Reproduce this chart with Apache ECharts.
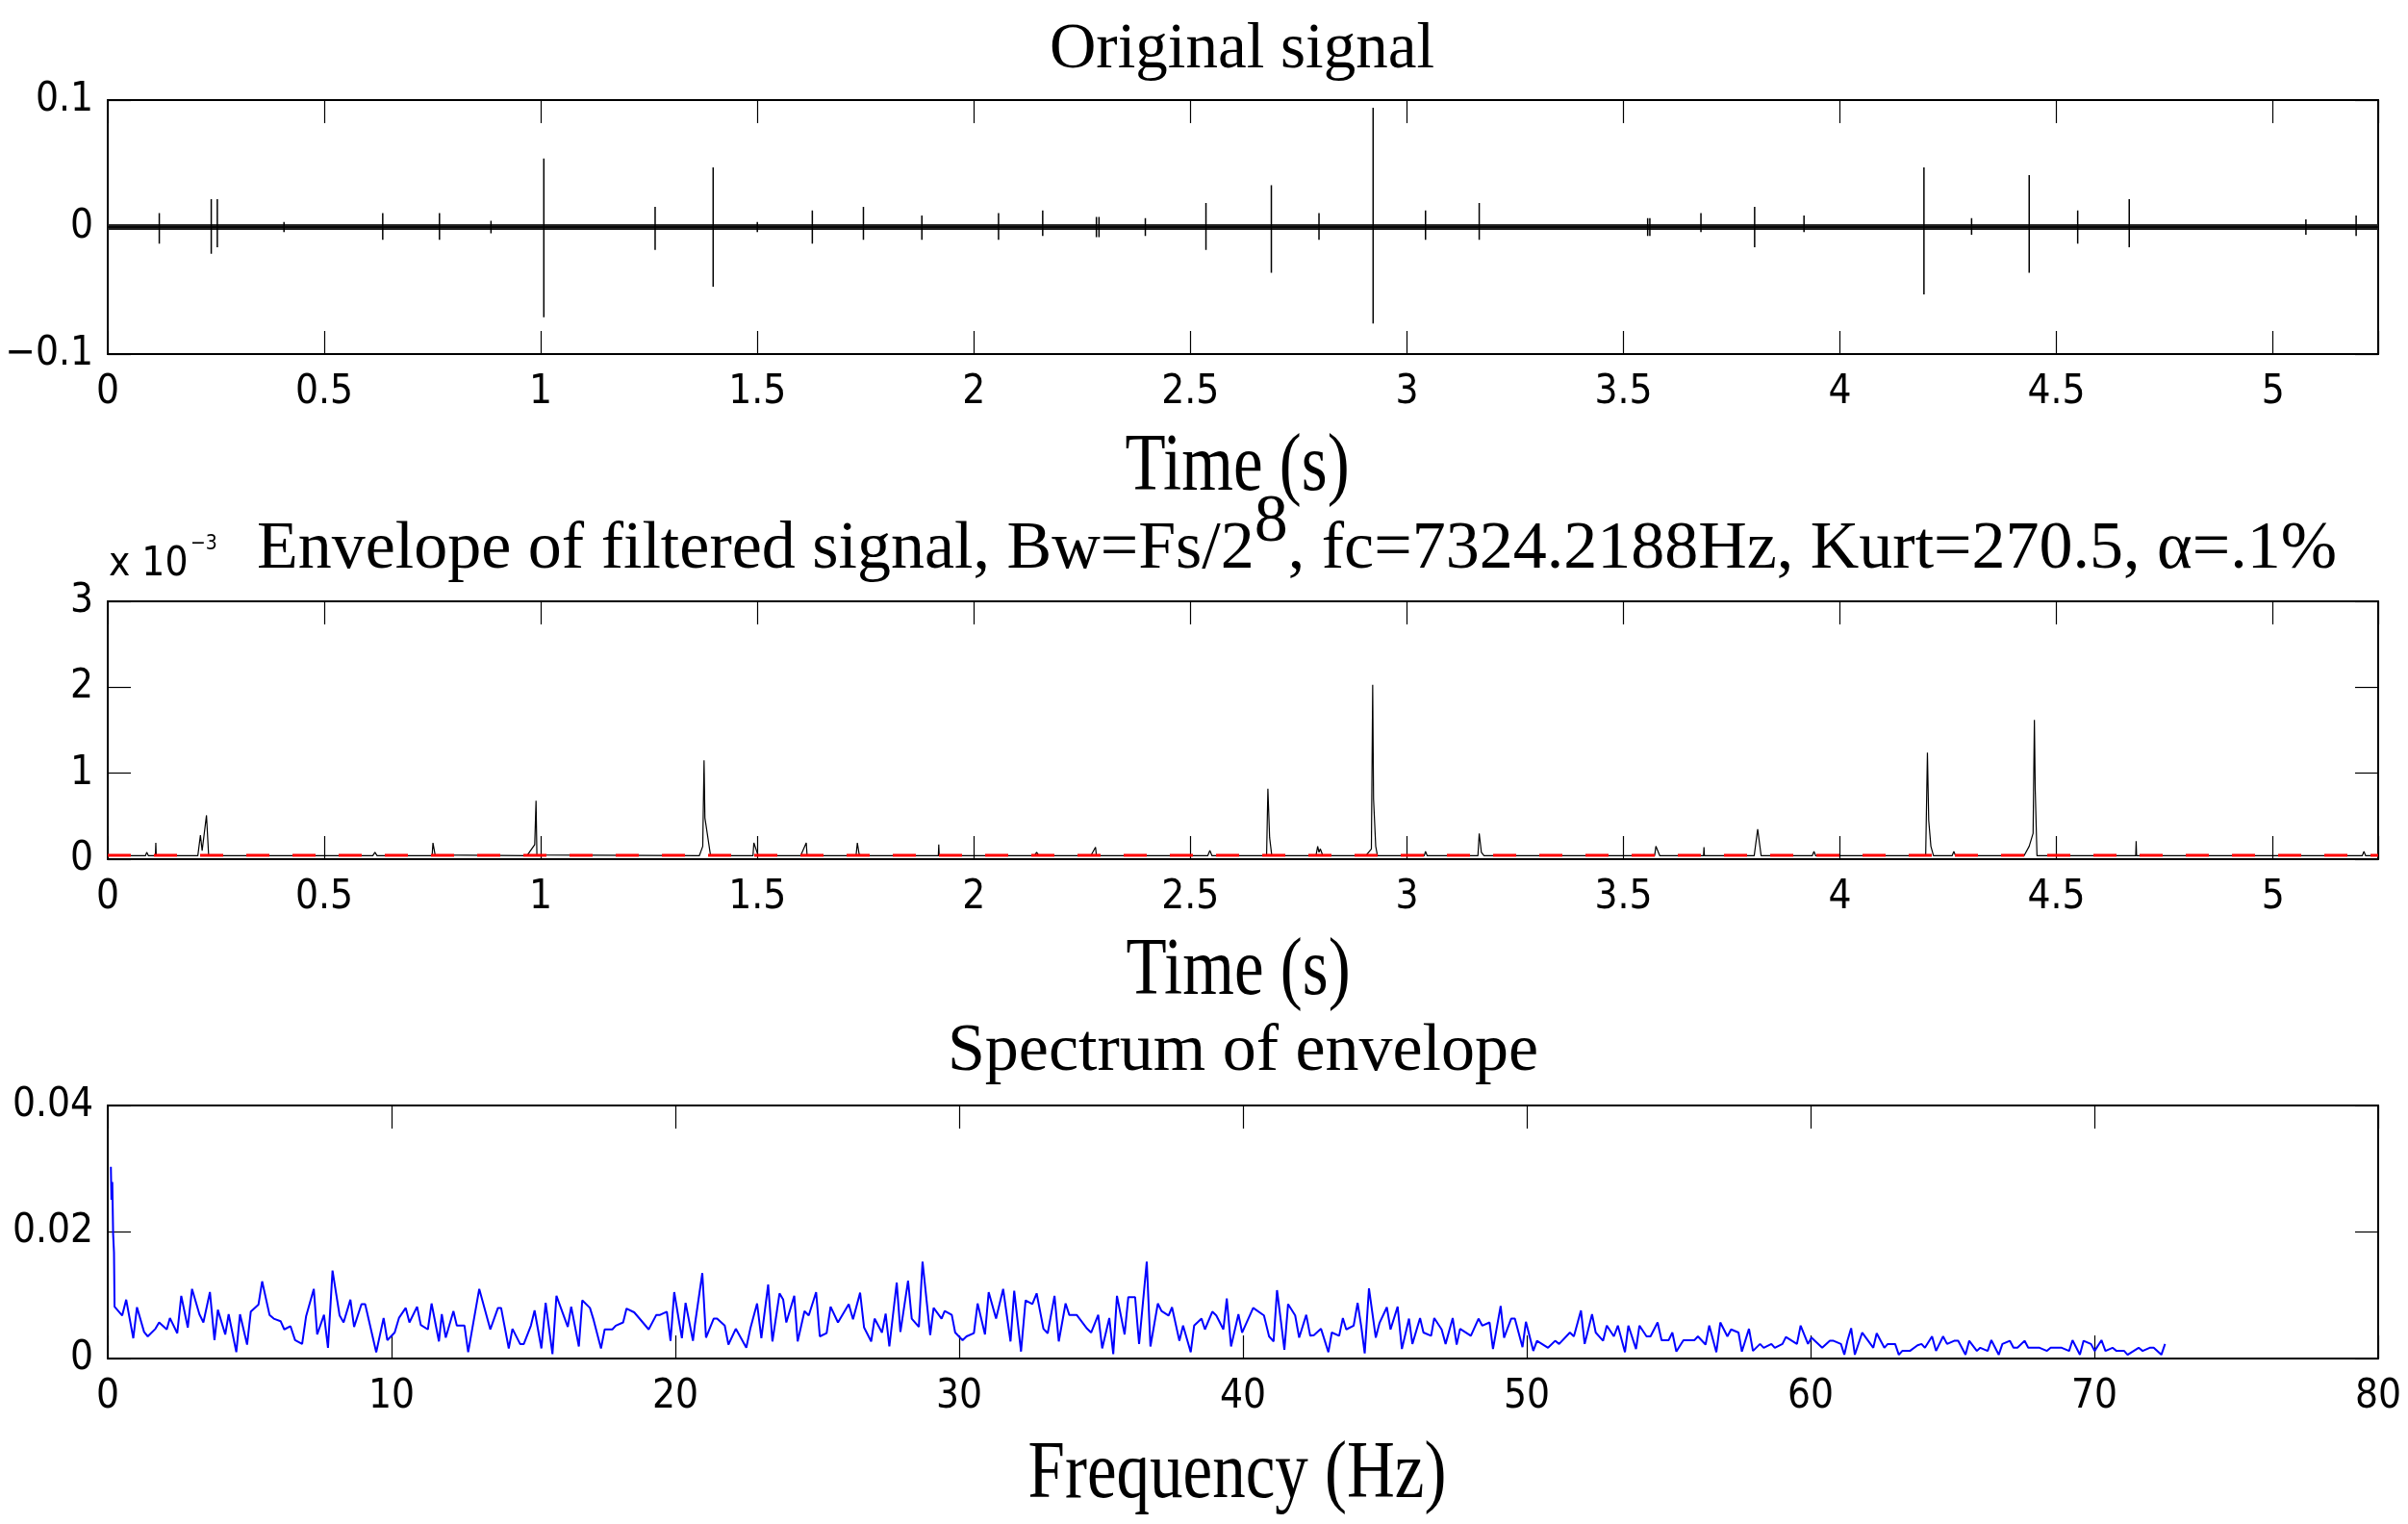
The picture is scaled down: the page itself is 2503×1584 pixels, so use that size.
<!DOCTYPE html>
<html>
<head>
<meta charset="utf-8">
<script src="https://cdn.jsdelivr.net/npm/echarts@6/dist/echarts.min.js"></script>
<style>
  html, body { margin: 0; padding: 0; background: #fff; }
  #chart { width: 2503px; height: 1584px; }
</style>
</head>
<body>
<div id="chart"></div>
<script>
// ---- data ----
var SIG_MAX = 5.24288;          // record length (s)
var SIG_NOISE = 0.0022;         // half height of the background noise band

// impulses of the original signal: time, positive peak, negative peak
var sigT = [0.119, 0.239, 0.253, 0.407, 0.635, 0.766, 0.885, 1.007, 1.264, 1.398, 1.500, 1.627, 1.745, 1.880, 2.057, 2.159, 2.283, 2.289, 2.396, 2.536, 2.687, 2.797, 2.922, 3.043, 3.167, 3.556, 3.561, 3.679, 3.803, 3.917, 4.194, 4.304, 4.437, 4.549, 4.668, 5.076, 5.192];
var sigUp = [0.011, 0.022, 0.022, 0.004, 0.011, 0.011, 0.005, 0.054, 0.016, 0.047, 0.004, 0.013, 0.016, 0.009, 0.011, 0.013, 0.008, 0.008, 0.007, 0.019, 0.033, 0.011, 0.094, 0.013, 0.019, 0.007, 0.007, 0.011, 0.016, 0.009, 0.047, 0.007, 0.041, 0.013, 0.022, 0.006, 0.009];
var sigDown = [-0.013, -0.021, -0.016, -0.004, -0.010, -0.010, -0.005, -0.071, -0.018, -0.047, -0.004, -0.013, -0.010, -0.010, -0.010, -0.007, -0.008, -0.008, -0.007, -0.018, -0.036, -0.010, -0.076, -0.010, -0.010, -0.007, -0.007, -0.004, -0.016, -0.004, -0.053, -0.006, -0.036, -0.013, -0.016, -0.006, -0.007];

// envelope of filtered signal (x 10^-3)
var envThreshold = 0.045;
var envPoints = [
  [0, 0.04], [0.087, 0.04], [0.090, 0.08], [0.094, 0.04], [0.110, 0.04], [0.111, 0.19], [0.112, 0.04],
  [0.208, 0.04], [0.214, 0.28], [0.218, 0.10], [0.228, 0.51], [0.233, 0.04],
  [0.612, 0.04], [0.617, 0.08], [0.622, 0.04],
  [0.749, 0.04], [0.751, 0.19], [0.756, 0.05], [0.760, 0.04],
  [0.968, 0.04], [0.986, 0.17], [0.989, 0.68], [0.991, 0.05],
  [1.366, 0.04], [1.374, 0.15], [1.377, 1.15], [1.379, 0.48], [1.392, 0.04],
  [1.490, 0.04], [1.492, 0.19], [1.502, 0.04],
  [1.600, 0.04], [1.613, 0.19], [1.615, 0.04],
  [1.728, 0.04], [1.731, 0.19], [1.735, 0.06], [1.741, 0.04],
  [1.918, 0.04], [1.919, 0.17], [1.920, 0.04],
  [2.140, 0.04], [2.145, 0.08], [2.150, 0.04],
  [2.270, 0.04], [2.281, 0.14], [2.283, 0.04],
  [2.540, 0.04], [2.545, 0.10], [2.550, 0.04],
  [2.676, 0.04], [2.679, 0.82], [2.683, 0.25], [2.688, 0.04],
  [2.790, 0.04], [2.794, 0.15], [2.797, 0.08], [2.800, 0.12], [2.806, 0.04],
  [2.905, 0.04], [2.918, 0.12], [2.921, 2.03], [2.923, 0.70], [2.928, 0.15], [2.932, 0.04],
  [3.040, 0.04], [3.043, 0.09], [3.047, 0.04],
  [3.164, 0.04], [3.167, 0.30], [3.172, 0.08], [3.178, 0.04],
  [3.572, 0.04], [3.575, 0.15], [3.584, 0.04],
  [3.685, 0.04], [3.686, 0.14], [3.687, 0.04],
  [3.802, 0.04], [3.810, 0.35], [3.818, 0.04],
  [3.936, 0.04], [3.940, 0.09], [3.944, 0.04],
  [4.198, 0.04], [4.202, 1.24], [4.205, 0.45], [4.210, 0.15], [4.216, 0.04],
  [4.259, 0.04], [4.263, 0.09], [4.267, 0.04],
  [4.425, 0.04], [4.437, 0.15], [4.446, 0.30], [4.449, 1.62], [4.451, 0.80], [4.455, 0.04],
  [4.683, 0.04], [4.684, 0.21], [4.685, 0.04],
  [5.206, 0.04], [5.210, 0.09], [5.214, 0.04], [5.24288, 0.04]
];

// spectrum of envelope: [Hz, amplitude x 10^-3]
var specPoints = [
  [0.11, 30.3], [0.13, 25.1], [0.16, 27.9], [0.19, 19.6], [0.22, 16.8], [0.24, 8.2], [0.51, 6.8], [0.65, 9.3], [0.90, 3.2], [1.03, 8.1],
  [1.28, 4.2], [1.41, 3.5], [1.68, 4.7], [1.81, 5.7], [2.08, 4.6], [2.19, 6.4], [2.45, 4.0], [2.59, 9.9], [2.82, 4.9], [2.97, 11.0],
  [3.23, 7.0], [3.37, 5.7], [3.60, 10.5], [3.76, 2.9], [3.88, 7.7], [4.14, 3.8], [4.26, 7.0], [4.53, 1.0], [4.66, 7.0], [4.91, 2.2],
  [5.04, 7.4], [5.31, 8.5], [5.44, 12.2], [5.70, 6.9], [5.85, 6.3], [6.09, 5.9], [6.22, 4.6], [6.44, 5.1], [6.60, 2.9], [6.85, 2.3],
  [6.99, 6.7], [7.26, 11.0], [7.38, 3.8], [7.62, 6.9], [7.76, 1.7], [7.92, 13.9], [8.17, 6.8], [8.31, 5.7], [8.55, 9.3], [8.68, 5.0],
  [8.94, 8.6], [9.07, 8.6], [9.46, 1.0], [9.72, 6.4], [9.85, 2.9], [10.11, 4.1], [10.26, 6.4], [10.50, 8.0], [10.63, 5.7], [10.90, 8.2],
  [11.03, 5.3], [11.28, 4.6], [11.41, 8.7], [11.67, 2.7], [11.77, 7.0], [11.91, 3.3], [12.18, 7.5], [12.30, 5.2], [12.57, 5.2], [12.70, 1.0],
  [13.09, 11.0], [13.48, 4.6], [13.75, 8.0], [13.86, 8.0], [14.13, 1.6], [14.26, 4.7], [14.53, 2.3], [14.66, 2.3], [14.91, 5.2], [15.04, 7.6],
  [15.28, 1.6], [15.43, 8.8], [15.67, 0.7], [15.81, 9.9], [16.21, 5.0], [16.33, 8.2], [16.60, 1.9], [16.72, 9.2], [16.99, 8.0], [17.12, 6.1],
  [17.38, 1.6], [17.51, 4.6], [17.78, 4.6], [17.90, 5.2], [18.16, 5.7], [18.28, 7.9], [18.55, 7.3], [18.76, 6.2], [19.06, 4.6], [19.33, 6.9],
  [19.46, 6.9], [19.70, 7.4], [19.83, 2.8], [19.96, 10.5], [20.23, 3.2], [20.36, 8.8], [20.62, 2.8], [20.69, 5.4], [20.95, 13.5], [21.08, 3.3],
  [21.35, 6.3], [21.47, 6.3], [21.74, 5.2], [21.87, 2.2], [22.13, 4.7], [22.50, 1.7], [22.64, 4.7], [22.88, 8.7], [23.03, 3.2], [23.27, 11.7],
  [23.42, 2.7], [23.67, 10.3], [23.80, 9.3], [23.91, 5.7], [24.19, 9.9], [24.31, 2.7], [24.55, 7.5], [24.70, 6.8], [24.96, 10.5], [25.09, 3.5],
  [25.33, 4.0], [25.47, 8.2], [25.73, 5.7], [26.11, 8.6], [26.26, 6.2], [26.51, 10.4], [26.65, 4.9], [26.90, 2.7], [27.02, 6.3], [27.28, 4.1],
  [27.41, 7.1], [27.54, 1.9], [27.80, 12.0], [27.93, 4.2], [28.20, 12.3], [28.33, 6.3], [28.58, 5.0], [28.71, 15.3], [28.98, 3.7], [29.10, 8.0],
  [29.38, 6.3], [29.49, 7.5], [29.74, 6.9], [29.86, 4.1], [30.12, 2.9], [30.26, 3.5], [30.52, 4.0], [30.65, 8.7], [30.91, 3.8], [31.04, 10.5],
  [31.30, 6.3], [31.55, 11.0], [31.81, 2.7], [31.94, 10.7], [32.18, 1.1], [32.34, 9.2], [32.58, 8.6], [32.73, 10.3], [32.97, 4.7], [33.12, 4.0],
  [33.36, 9.9], [33.51, 2.7], [33.75, 8.7], [33.88, 6.9], [34.14, 6.9], [34.51, 4.7], [34.65, 4.1], [34.90, 6.9], [35.04, 1.6], [35.29, 6.4],
  [35.43, 0.7], [35.56, 9.9], [35.83, 3.8], [35.96, 9.7], [36.20, 9.7], [36.34, 2.3], [36.61, 15.3], [36.74, 1.9], [37.00, 8.7], [37.13, 7.5],
  [37.38, 6.8], [37.50, 8.1], [37.76, 2.8], [37.89, 5.2], [38.16, 1.0], [38.28, 5.2], [38.54, 6.3], [38.66, 4.6], [38.92, 7.4], [39.06, 6.8],
  [39.31, 4.6], [39.43, 9.5], [39.58, 1.9], [39.84, 7.0], [39.97, 4.1], [40.36, 8.0], [40.74, 6.8], [40.92, 3.5], [41.08, 2.7], [41.20, 10.8],
  [41.34, 5.8], [41.46, 1.4], [41.59, 8.6], [41.84, 6.8], [41.98, 3.3], [42.23, 6.9], [42.37, 3.6], [42.50, 3.7], [42.75, 4.7], [43.01, 1.0],
  [43.13, 4.1], [43.39, 3.6], [43.52, 6.4], [43.64, 4.6], [43.90, 5.2], [44.04, 8.8], [44.17, 5.0], [44.29, 0.8], [44.44, 11.1], [44.68, 3.3],
  [44.81, 5.6], [45.07, 8.1], [45.20, 4.6], [45.45, 8.2], [45.60, 1.5], [45.85, 6.3], [45.97, 2.3], [46.24, 6.4], [46.36, 4.1], [46.63, 3.6],
  [46.74, 6.4], [47.00, 4.6], [47.14, 2.3], [47.39, 6.4], [47.53, 2.2], [47.65, 4.7], [48.03, 3.6], [48.30, 6.3], [48.43, 5.2], [48.69, 5.7],
  [48.81, 1.5], [49.08, 8.3], [49.20, 3.3], [49.45, 6.3], [49.58, 6.3], [49.85, 1.8], [49.97, 5.8], [50.23, 1.2], [50.36, 2.8], [50.75, 1.7],
  [51.00, 2.8], [51.14, 2.3], [51.52, 4.1], [51.66, 3.5], [51.91, 7.6], [52.04, 2.3], [52.30, 7.0], [52.43, 4.1], [52.69, 2.8], [52.82, 5.2],
  [53.07, 3.5], [53.21, 5.2], [53.46, 1.0], [53.58, 5.2], [53.85, 1.5], [53.97, 5.2], [54.22, 3.5], [54.36, 3.5], [54.61, 5.7], [54.75, 2.9],
  [55.00, 2.9], [55.13, 4.1], [55.27, 1.1], [55.52, 2.9], [55.91, 2.9], [56.03, 3.5], [56.30, 2.2], [56.43, 5.2], [56.68, 1.0], [56.82, 5.7],
  [57.07, 3.5], [57.20, 4.6], [57.46, 4.1], [57.58, 1.1], [57.83, 4.7], [57.97, 1.2], [58.22, 2.3], [58.35, 1.7], [58.62, 2.3], [58.74, 1.7],
  [59.01, 2.3], [59.13, 3.4], [59.52, 2.3], [59.65, 5.2], [59.91, 2.3], [60.03, 3.3], [60.41, 1.7], [60.68, 2.8], [60.81, 2.8], [61.07, 2.3],
  [61.19, 0.6], [61.30, 2.8], [61.43, 4.8], [61.56, 0.6], [61.82, 4.1], [62.21, 1.7], [62.33, 4.0], [62.60, 1.7], [62.72, 2.3], [62.98, 2.3],
  [63.11, 0.6], [63.23, 1.2], [63.50, 1.2], [63.77, 2.1], [63.91, 2.3], [64.03, 1.7], [64.28, 3.5], [64.42, 1.2], [64.67, 3.5], [64.81, 2.3],
  [65.06, 2.8], [65.20, 2.8], [65.46, 0.6], [65.59, 2.8], [65.86, 1.2], [65.98, 1.7], [66.24, 1.2], [66.37, 2.9], [66.63, 0.6], [66.76, 2.3],
  [67.02, 2.8], [67.15, 1.7], [67.29, 1.7], [67.54, 2.8], [67.67, 1.7], [68.07, 1.7], [68.33, 1.2], [68.46, 1.7], [68.85, 1.7], [69.11, 1.2],
  [69.23, 2.9], [69.49, 0.6], [69.62, 2.8], [69.88, 2.3], [70.01, 1.2], [70.25, 2.9], [70.39, 1.2], [70.64, 1.7], [70.78, 1.2], [71.05, 1.2],
  [71.17, 0.6], [71.56, 1.7], [71.70, 1.2], [71.95, 1.7], [72.09, 1.7], [72.36, 0.6], [72.49, 2.3]
];

// ---- look ----
var FONT_NUM = '"Liberation Sans Narrow", "DejaVu Sans Condensed", "Liberation Sans", sans-serif';
var FONT_TXT = '"Liberation Serif", "DejaVu Serif", serif';
var PANEL_L = 112, PANEL_W = 2360;
var MID = 0.265;   // offset of the "middle" line above the baseline, in em

function halfStep(v) {
  var k = v / 0.5;
  return Math.abs(k - Math.round(k)) < 1e-6 ? String(v) : '';
}

function axisPair(kind, grid, min, max, interval, fmt) {
  var base = {
    type: 'value', gridIndex: grid, min: min, max: max, interval: interval,
    splitLine: { show: false },
    axisLine: { show: true, onZero: false, lineStyle: { color: '#000', width: 2 } },
    axisTick: { show: true, inside: true, length: 24, lineStyle: { color: '#000', width: 1.2 } }
  };
  var a = Object.assign({}, base, {
    position: kind === 'x' ? 'bottom' : 'left',
    axisLabel: { show: true, color: '#000', fontSize: 42, fontFamily: FONT_NUM, margin: kind === 'x' ? 19 : 15, formatter: fmt }
  });
  var b = Object.assign({}, base, {
    position: kind === 'x' ? 'top' : 'right',
    axisLabel: { show: false }
  });
  return [a, b];
}

function serifText(txt, x, baseline, size, sy, align) {
  sy = sy || 1;
  align = align || 'center';
  return {
    type: 'text', x: x, y: baseline - MID * size * sy, scaleY: sy, silent: true,
    style: {
      text: txt, fontFamily: FONT_TXT, fontSize: size, fill: '#000',
      align: align, verticalAlign: 'middle', textAlign: align, textVerticalAlign: 'middle'
    }
  };
}

function sansText(txt, x, baseline, size) {
  return {
    type: 'text', x: x, y: baseline - 0.3465 * size, silent: true,
    style: {
      text: txt, fontFamily: FONT_NUM, fontSize: size, fill: '#000',
      align: 'left', verticalAlign: 'middle', textAlign: 'left', textVerticalAlign: 'middle'
    }
  };
}

// signal trace: zero line broken by each impulse
var sigLine = [[0, 0]];
for (var i = 0; i < sigT.length; i++) {
  sigLine.push([sigT[i], 0], [sigT[i], sigUp[i]], [sigT[i], sigDown[i]], [sigT[i], 0]);
}
sigLine.push([SIG_MAX, 0]);

// title of panel 2 with the raised exponent
var T2_SIZE = 70, T2_LEFT = 267, T2_BASE = 590, T2_RAISE = 28;
var t2a = 'Envelope of filtered signal, Bw=Fs/2';
var t2b = '8';
var t2c = ', fc=7324.2188Hz, Kurt=270.5, \u03b1=.1%';
var mctx = document.createElement('canvas').getContext('2d');
mctx.font = T2_SIZE + 'px ' + FONT_TXT;
var wA = mctx.measureText(t2a).width;
var wB = mctx.measureText(t2b).width;

var xAxes = []
  .concat(axisPair('x', 0, 0, SIG_MAX, 0.5, halfStep))
  .concat(axisPair('x', 1, 0, SIG_MAX, 0.5, halfStep))
  .concat(axisPair('x', 2, 0, 80, 10, function (v) { return String(v); }));
var yAxes = []
  .concat(axisPair('y', 0, -0.1, 0.1, 0.1, function (v) {
    if (Math.abs(v) < 1e-9) return '0';
    return v < 0 ? '\u2212' + Math.abs(v).toFixed(1) : v.toFixed(1);
  }))
  .concat(axisPair('y', 1, 0, 3, 1, function (v) { return String(v); }))
  .concat(axisPair('y', 2, 0, 40, 20, function (v) { return v === 0 ? '0' : (v / 1000).toFixed(2); }));

var chart = echarts.init(document.getElementById('chart'), null, { renderer: 'canvas' });

var option = {
  animation: false,
  backgroundColor: '#fff',
  grid: [
    { left: PANEL_L, top: 104, width: PANEL_W, height: 264, outerBoundsMode: 'none' },
    { left: PANEL_L, top: 625, width: PANEL_W, height: 268, outerBoundsMode: 'none' },
    { left: PANEL_L, top: 1149, width: PANEL_W, height: 263, outerBoundsMode: 'none' }
  ],
  xAxis: xAxes,
  yAxis: yAxes,
  series: [
    {
      name: 'Original signal', type: 'line', xAxisIndex: 0, yAxisIndex: 0,
      data: sigLine, showSymbol: false, symbol: 'none',
      lineStyle: { color: '#000', width: 1.5 },
      markArea: {
        silent: true,
        itemStyle: { color: '#222' },
        data: [[{ yAxis: -SIG_NOISE }, { yAxis: SIG_NOISE }]]
      }
    },
    {
      name: 'Envelope', type: 'line', xAxisIndex: 2, yAxisIndex: 2,
      data: envPoints, showSymbol: false, symbol: 'none',
      lineStyle: { color: '#000', width: 1.2 }
    },
    {
      name: 'Threshold', type: 'line', xAxisIndex: 2, yAxisIndex: 2,
      data: [[0, envThreshold], [SIG_MAX, envThreshold]], showSymbol: false, symbol: 'none',
      lineStyle: { color: '#ff0000', width: 3, type: [24, 24] }
    },
    {
      name: 'Spectrum', type: 'line', xAxisIndex: 4, yAxisIndex: 4,
      data: specPoints, showSymbol: false, symbol: 'none',
      lineStyle: { color: '#0000ff', width: 2 }
    }
  ],
  graphic: [
    serifText('Original signal', 1291, 70, 67),
    serifText('Time (s)', 1286, 509, 69, 1.23),
    serifText(t2a, T2_LEFT, T2_BASE, T2_SIZE, 1, 'left'),
    serifText(t2b, T2_LEFT + wA, T2_BASE - T2_RAISE, T2_SIZE, 1, 'left'),
    serifText(t2c, T2_LEFT + wA + wB, T2_BASE, T2_SIZE, 1, 'left'),
    sansText('x 10', 113, 602, 42),
    sansText('\u22123', 198, 573, 21),
    serifText('Time (s)', 1287, 1033, 69, 1.23),
    serifText('Spectrum of envelope', 1292, 1112, 70),
    serifText('Frequency (Hz)', 1286, 1556, 69, 1.23)
  ]
};

chart.setOption(option);
</script>
</body>
</html>
